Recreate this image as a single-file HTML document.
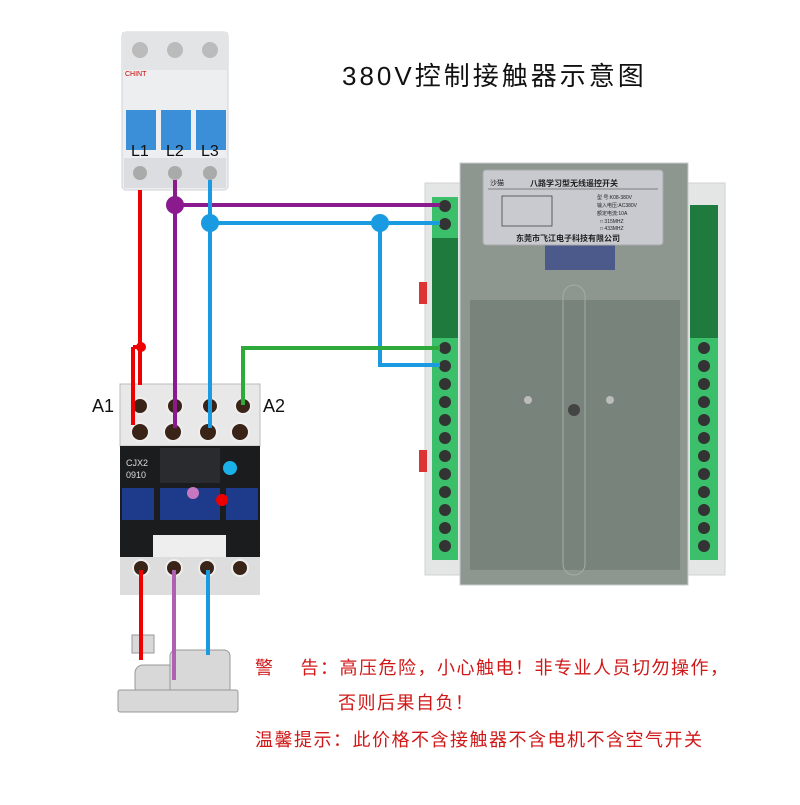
<!DOCTYPE html><html><head><meta charset="utf-8"><style>
body{margin:0;width:800px;height:800px;background:#fff;overflow:hidden;font-family:"Liberation Sans","Noto Sans CJK SC",sans-serif}
</style></head><body>
<svg width="800" height="800" viewBox="0 0 800 800" xmlns="http://www.w3.org/2000/svg" font-family="Liberation Sans, Noto Sans CJK SC, sans-serif">
<text x="342" y="85" font-size="26" fill="#111" letter-spacing="3">380V控制接触器示意图</text>
<!-- breaker -->
<rect x="122" y="32" width="106" height="158" rx="4" fill="#eceef0" stroke="#cfd2d6"/>
<rect x="122" y="32" width="106" height="38" fill="#e2e4e6"/>
<circle cx="140" cy="50" r="8" fill="#bbb"/><circle cx="175" cy="50" r="8" fill="#bbb"/><circle cx="210" cy="50" r="8" fill="#bbb"/>
<text x="125" y="76" font-size="7" fill="#c00">CHINT</text>
<rect x="126" y="110" width="30" height="40" fill="#3b8fd8"/><rect x="161" y="110" width="30" height="40" fill="#3b8fd8"/><rect x="196" y="110" width="30" height="40" fill="#3b8fd8"/>
<rect x="124" y="158" width="102" height="30" fill="#dcdde0"/>
<circle cx="140" cy="173" r="7" fill="#aaa"/><circle cx="175" cy="173" r="7" fill="#aaa"/><circle cx="210" cy="173" r="7" fill="#aaa"/>
<text x="131" y="156" font-size="16" fill="#111">L1</text><text x="166" y="156" font-size="16" fill="#111">L2</text><text x="201" y="156" font-size="16" fill="#111">L3</text>
<!-- controller -->
<rect x="425" y="183" width="300" height="392" fill="#e4e6e6" stroke="#cfd2d2"/>
<rect x="460" y="163" width="228" height="422" fill="#8d968f" stroke="#c8cccc"/>
<rect x="470" y="300" width="210" height="270" fill="#6a766e" opacity=".6"/>
<rect x="432" y="238" width="26" height="100" fill="#1f7a3e"/>
<rect x="690" y="205" width="28" height="135" fill="#1f7a3e"/>
<rect x="432" y="197" width="26" height="41" fill="#3cbf6a"/>
<circle cx="445" cy="206" r="6" fill="#333"/><circle cx="445" cy="224" r="6" fill="#333"/>
<rect x="432" y="338" width="26" height="222" fill="#3cbf6a"/>
<rect x="690" y="338" width="28" height="222" fill="#3cbf6a"/>
<g fill="#333">
<circle cx="445" cy="348" r="6"/><circle cx="445" cy="366" r="6"/><circle cx="445" cy="384" r="6"/><circle cx="445" cy="402" r="6"/><circle cx="445" cy="420" r="6"/><circle cx="445" cy="438" r="6"/><circle cx="445" cy="456" r="6"/><circle cx="445" cy="474" r="6"/><circle cx="445" cy="492" r="6"/><circle cx="445" cy="510" r="6"/><circle cx="445" cy="528" r="6"/><circle cx="445" cy="546" r="6"/>
<circle cx="704" cy="348" r="6"/><circle cx="704" cy="366" r="6"/><circle cx="704" cy="384" r="6"/><circle cx="704" cy="402" r="6"/><circle cx="704" cy="420" r="6"/><circle cx="704" cy="438" r="6"/><circle cx="704" cy="456" r="6"/><circle cx="704" cy="474" r="6"/><circle cx="704" cy="492" r="6"/><circle cx="704" cy="510" r="6"/><circle cx="704" cy="528" r="6"/><circle cx="704" cy="546" r="6"/>
</g>
<rect x="419" y="282" width="8" height="22" fill="#d33"/><rect x="419" y="450" width="8" height="22" fill="#d33"/>
<rect x="563" y="285" width="22" height="290" rx="11" fill="none" stroke="#a4aca6"/>
<circle cx="574" cy="410" r="6" fill="#444"/><circle cx="528" cy="400" r="4" fill="#bbb"/><circle cx="610" cy="400" r="4" fill="#bbb"/>
<rect x="545" y="245" width="70" height="25" fill="#4b5a8a"/>
<rect x="483" y="170" width="180" height="75" rx="3" fill="#c8cad0" stroke="#aaa"/>
<text x="490" y="185" font-size="7" fill="#222">沙猫</text>
<text x="530" y="186" font-size="8" font-weight="bold" fill="#222">八路学习型无线遥控开关</text>
<line x1="488" y1="189" x2="658" y2="189" stroke="#333" stroke-width=".6"/>
<rect x="502" y="196" width="50" height="30" fill="none" stroke="#333" stroke-width=".7"/>
<text x="597" y="199" font-size="5" fill="#222">型 号:K08-380V</text>
<text x="597" y="207" font-size="5" fill="#222">输入电压:AC380V</text>
<text x="597" y="215" font-size="5" fill="#222">额定电流:10A</text>
<text x="600" y="223" font-size="5" fill="#222">□ 315MHZ</text><text x="600" y="230" font-size="5" fill="#222">□ 433MHZ</text>
<text x="516" y="241" font-size="8" font-weight="bold" fill="#222">东莞市飞江电子科技有限公司</text>
<!-- contactor -->
<rect x="120" y="384" width="140" height="62" fill="#e8e8e8" stroke="#bbb"/>
<rect x="120" y="446" width="140" height="112" fill="#1b1c1e"/>
<rect x="122" y="488" width="32" height="32" fill="#1e3a8a"/><rect x="160" y="488" width="60" height="32" fill="#1e3a8a"/><rect x="226" y="488" width="32" height="32" fill="#1e3a8a"/>
<rect x="160" y="448" width="60" height="35" fill="#2a2b2e"/>
<text x="126" y="466" font-size="9" fill="#ddd">CJX2</text><text x="126" y="478" font-size="9" fill="#ddd">0910</text>
<rect x="153" y="535" width="73" height="22" fill="#eee"/>
<rect x="120" y="557" width="140" height="38" fill="#ddd"/>
<g fill="#3a2418" stroke="#eee" stroke-width="2">
<circle cx="140" cy="406" r="8"/><circle cx="175" cy="406" r="8"/><circle cx="210" cy="406" r="8"/><circle cx="243" cy="406" r="8"/>
<circle cx="140" cy="432" r="9"/><circle cx="173" cy="432" r="9"/><circle cx="208" cy="432" r="9"/><circle cx="240" cy="432" r="9"/>
<circle cx="141" cy="568" r="8"/><circle cx="174" cy="568" r="8"/><circle cx="207" cy="568" r="8"/><circle cx="240" cy="568" r="8"/>
</g>
<text x="92" y="412" font-size="18" fill="#111">A1</text><text x="263" y="412" font-size="18" fill="#111">A2</text>
<!-- motor -->
<g fill="#d8d8d8" stroke="#999">
<rect x="135" y="665" width="50" height="30" rx="8"/><rect x="170" y="650" width="60" height="48" rx="6"/><rect x="118" y="690" width="120" height="22" rx="2"/>
<rect x="132" y="635" width="22" height="18"/>
</g>
<!-- wires -->
<g fill="none" stroke-width="4">
<path d="M140 190V385" stroke="#e00"/><path d="M133 347H141M133 347V425" stroke="#e00"/>
<path d="M175 180V428" stroke="#8a1a8e"/><path d="M175 205H440" stroke="#8a1a8e"/>
<path d="M210 180V428" stroke="#1a9ae0"/><path d="M210 223H440M380 223V365H440" stroke="#1a9ae0"/>
<path d="M243 405V348H440" stroke="#2eaa3a"/>
<path d="M141 570V660" stroke="#e00"/><path d="M174 570V680" stroke="#b060b0"/><path d="M208 570V655" stroke="#1a9ae0"/>
</g>
<circle cx="141" cy="347" r="5" fill="#e00"/><circle cx="175" cy="205" r="9" fill="#8a1a8e"/><circle cx="210" cy="223" r="9" fill="#1a9ae0"/><circle cx="380" cy="223" r="9" fill="#1a9ae0"/>
<circle cx="230" cy="468" r="7" fill="#1ab0e8"/><circle cx="193" cy="493" r="6" fill="#c878c0"/><circle cx="222" cy="500" r="6" fill="#e00"/>
<g font-size="18" fill="#d01818" letter-spacing="1.5">
<text x="255" y="674">警　 告：高压危险，小心触电！非专业人员切勿操作，</text>
<text x="338" y="709">否则后果自负！</text>
<text x="255" y="746">温馨提示：此价格不含接触器不含电机不含空气开关</text>
</g>
</svg></body></html>
